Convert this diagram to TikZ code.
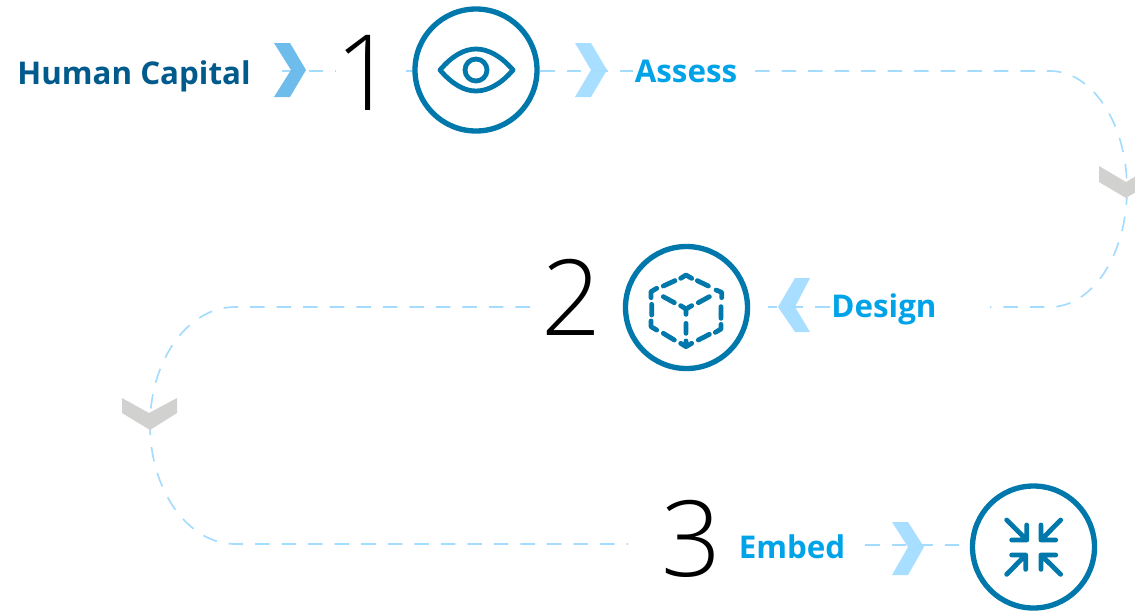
\documentclass[tikz,border=0pt]{standalone}
\usepackage{fontspec}
\setmainfont{Open Sans}
\newfontfamily\lightfont{Open Sans Light}
\definecolor{ringblue}{HTML}{0078AB}
\definecolor{dashblue}{HTML}{A3DCFF}
\definecolor{midblue}{HTML}{66B8EA}
\definecolor{navy}{HTML}{005A8C}
\definecolor{skyblue}{HTML}{00A3E8}
\definecolor{chevgrey}{HTML}{D1D1CF}
\tikzset{
  x=.75pt,y=-.75pt,
  flow/.style={draw=dashblue,line width=1.25pt,dash pattern=on 10.9pt off 9pt},
  ring/.style={circle,draw=ringblue,line width=4pt,minimum size=91.5pt,inner sep=0pt,fill=white},
  glyph/.style={draw=ringblue,line width=3.6pt,line cap=round,line join=round},
  title/.style={font=\bfseries\fontsize{23.5pt}{28pt}\selectfont,anchor=base,inner sep=0pt},
  num/.style={font=\lightfont\fontsize{79pt}{80pt}\selectfont,anchor=base,inner sep=0pt,text=black},
}
\begin{document}
\begin{tikzpicture}
\useasboundingbox (0,0) rectangle (1135,612);
\clip (0,0) rectangle (1135,612);
% free ends
\coordinate (a0) at (282,71); \coordinate (a1) at (336,71);
\coordinate (a2) at (406,71); \coordinate (a3) at (476,71);
\coordinate (a4) at (540,71); \coordinate (a5) at (633,71);
\coordinate (b0) at (755,71); \coordinate (b1) at (1050,71);
\coordinate (b2) at (1127,189); \coordinate (b3) at (1050,307); \coordinate (b4) at (990,307);
\coordinate (c0) at (830,307); \coordinate (c1) at (768,307);
\coordinate (d0) at (530,307); \coordinate (d1) at (235,307);
\coordinate (d2) at (150,425); \coordinate (d3) at (235,544); \coordinate (d4) at (628,544);
\coordinate (e0) at (865,545); \coordinate (e1) at (960,545);
% connectors
\draw[flow] (a0) -- (a1);
\draw[flow] (a2) -- (a3);
\draw[flow] (a4) -- (a5);
\draw[flow] (b0) -- (b1) .. controls (1092.5,71) and (1127,124) .. (b2) .. controls (1127,254) and (1092.5,307) .. (b3) -- (b4);
\draw[flow] (c0) -- (c1);
\draw[flow] (d0) -- (d1) .. controls (188,307) and (150,360) .. (d2) .. controls (150,490) and (188,544) .. (d3) -- (d4);
\draw[flow] (e0) -- (e1);
% chevrons
\fill[midblue,opacity=.95] (274,43)--(290,43)--(306,70)--(290,97)--(274,97)--(291,70)--cycle;
\fill[dashblue,opacity=.95] (575,43)--(591,43)--(607,70)--(591,97)--(575,97)--(591,70)--cycle;
\fill[dashblue,opacity=.95] (810,278)--(795,278)--(778,307)--(795,332)--(810,332)--(795,307)--cycle;
\fill[dashblue,opacity=.95] (892,522)--(908,522)--(924,547)--(908,575)--(892,575)--(908,547)--cycle;
\fill[chevgrey] (1099,166)--(1126,182)--(1153,166)--(1153,182)--(1126,198)--(1099,182)--cycle;
\fill[chevgrey] (122,398)--(149,413)--(177,398)--(177,413)--(150,430)--(122,413)--cycle;
% rings
\node[ring] (r1) at (476,70) {};
\node[ring] (r2) at (686.5,307.5) {};
\node[ring] (r3) at (1033.5,547) {};
% eye
\draw[glyph] (440,70) .. controls (452,56) and (464,49) .. (476,49) .. controls (488,49) and (501,56) .. (513,70) .. controls (501,84) and (488,91) .. (476,91) .. controls (464,91) and (452,84) .. (440,70) -- cycle;
\draw[glyph] (476,70) circle[radius=11];
% cube
\begin{scope}[shift={(610,235)},x=.25pt,y=-.25pt]
\draw[glyph]
 (212,130)--(228,120)--(245,130)
 (262,137)--(295,153)
 (318,165)--(335,172)--(335,188)
 (333,215)--(333,250)
 (333,268)--(333,282)--(316,292)
 (298,298)--(265,315)
 (245,325)--(228,335)--(212,325)
 (193,315)--(160,295)
 (140,285)--(123,275)--(123,258)
 (125,240)--(125,208)
 (123,188)--(123,170)--(140,160)
 (160,153)--(195,137)
 (160,185)--(193,203)
 (212,212)--(228,222)--(245,212)
 (265,203)--(298,185)
 (228,222)--(228,238)
 (228,265)--(228,295)
 (228,318)--(228,335);
\end{scope}
% compress
\begin{scope}[shift={(880,475)},x=.25pt,y=-.25pt]
\draw[glyph]
 (380,135)--(440,195) (440,150)--(440,195)--(395,195)
 (542,135)--(483,195) (483,150)--(483,195)--(527,195)
 (380,298)--(437,240) (395,240)--(437,240)--(437,283)
 (542,298)--(483,240) (527,240)--(483,240)--(483,283);
\end{scope}
% texts
\node[title,text=navy] (hc) at (134,84) {Human Capital};
\node[title,text=skyblue] (as) at (686,82) {Assess};
\node[title,text=skyblue] (de) at (884,317) {Design};
\node[title,text=skyblue] (em) at (792,558) {Embed};
\node[num] (n1) at (366,110) {1};
\node[num] (n2) at (571.5,335) {2};
\node[num] (n3) at (692,576) {3};
\end{tikzpicture}
\end{document}
